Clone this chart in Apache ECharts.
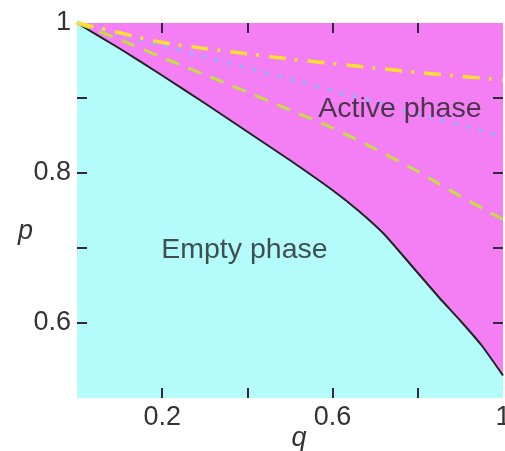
<!DOCTYPE html>
<html>
<head>
<meta charset="utf-8">
<title>Phase diagram</title>
<script src="https://cdn.jsdelivr.net/npm/echarts@6/dist/echarts.min.js"></script>
<style>
  html, body { margin: 0; padding: 0; background: #ffffff; }
  #chart { width: 505px; height: 451px; }
</style>
</head>
<body>
<div id="chart"></div>
<script>
// q values shared by the critical line
const qValues = [0, 0.1, 0.2, 0.3, 0.4, 0.5, 0.6, 0.66, 0.72, 0.78, 0.85, 0.9, 0.95, 1];
// critical line separating the empty and active phases
const criticalP = [1, 0.966, 0.930, 0.893, 0.855, 0.817, 0.777, 0.750, 0.719, 0.680, 0.634, 0.603, 0.570, 0.530];

const qCurve = [0, 0.1, 0.2, 0.3, 0.4, 0.5, 0.6, 0.7, 0.8, 0.9, 1];
// dashed (green), dotted (blue) and dash-dot (yellow) estimates
const greenP  = [1, 0.978, 0.954, 0.931, 0.908, 0.884, 0.860, 0.832, 0.802, 0.769, 0.738];
const blueP   = [1, 0.985, 0.970, 0.955, 0.940, 0.925, 0.910, 0.895, 0.879, 0.864, 0.848];
const yellowP = [1, 0.987, 0.974, 0.966, 0.959, 0.952, 0.946, 0.940, 0.934, 0.929, 0.924];

// tick positions and labelled ticks
const xTicks = [0.2, 0.4, 0.6, 0.8];
const xTickLabels = [0.2, 0.6, 1];
const yTicks = [0.6, 0.7, 0.8, 0.9];
const yTickLabels = [0.6, 0.8, 1];

// region names and where they sit in (q, p)
const regionNames = ['Empty phase', 'Active phase'];
const regionQ = [0.393, 0.758];
const regionP = [0.697, 0.885];

const pairs = (xs, ys) => xs.map((x, i) => [x, ys[i]]);

const FONT = 'Liberation Sans, Arial, sans-serif';
const tickLine = { color: '#33283a', width: 2 };
const hiddenLine = { show: false, onZero: false };
const innerTicks = (values) => ({ show: true, inside: true, length: 10, customValues: values, lineStyle: tickLine });

const chart = echarts.init(document.getElementById('chart'), null, { renderer: 'canvas' });

chart.setOption({
  animation: false,
  backgroundColor: '#ffffff',
  grid: {
    left: 77, top: 23, right: 2, bottom: 53,
    containLabel: false, outerBoundsMode: 'none',
    show: true, backgroundColor: '#f47ef4', borderWidth: 0
  },
  xAxis: [
    {
      type: 'value', min: 0, max: 1, position: 'bottom', z: 10,
      name: 'q', nameLocation: 'middle', nameGap: 27, nameMoveOverlap: false,
      nameTextStyle: { fontFamily: FONT, fontStyle: 'italic', fontSize: 27, color: '#333', verticalAlign: 'top', padding: [0, 0, 0, 18] },
      axisLine: hiddenLine,
      splitLine: { show: false },
      axisTick: innerTicks(xTicks),
      axisLabel: {
        customValues: xTickLabels, margin: 6,
        fontFamily: FONT, fontSize: 27, color: '#333',
        showMinLabel: true, showMaxLabel: true
      }
    },
    {
      type: 'value', min: 0, max: 1, position: 'top', z: 10,
      axisLine: hiddenLine,
      splitLine: { show: false },
      axisTick: innerTicks(xTicks),
      axisLabel: { show: false }
    }
  ],
  yAxis: [
    {
      type: 'value', min: 0.5, max: 1, position: 'left', z: 10,
      name: 'p', nameLocation: 'middle', nameGap: 44, nameRotate: 0, nameMoveOverlap: false,
      nameTextStyle: { fontFamily: FONT, fontStyle: 'italic', fontSize: 27, color: '#333', verticalAlign: 'top', padding: [7, 0, 0, 0] },
      axisLine: hiddenLine,
      splitLine: { show: false },
      axisTick: innerTicks(yTicks),
      axisLabel: {
        customValues: yTickLabels, margin: 6,
        fontFamily: FONT, fontSize: 27, color: '#333',
        showMinLabel: true, showMaxLabel: true
      }
    },
    {
      type: 'value', min: 0.5, max: 1, position: 'right', z: 10,
      axisLine: hiddenLine,
      splitLine: { show: false },
      axisTick: innerTicks(yTicks),
      axisLabel: { show: false }
    }
  ],
  series: [
    {
      name: 'critical line',
      type: 'line',
      data: pairs(qValues, criticalP),
      smooth: 0.2,
      symbol: 'none',
      lineStyle: { color: '#222', width: 2 },
      areaStyle: { color: '#b4fcfc', opacity: 1, origin: 'start' },
      z: 2
    },
    {
      name: 'green',
      type: 'line',
      data: pairs(qCurve, greenP),
      smooth: 0.3,
      symbol: 'none',
      lineStyle: { color: '#c6dc45', width: 3, type: [14, 10] },
      z: 3
    },
    {
      name: 'blue',
      type: 'line',
      data: pairs(qCurve, blueP),
      smooth: 0.3,
      symbol: 'none',
      lineStyle: { color: '#8cb6ff', width: 4, type: [3, 10] },
      z: 3
    },
    {
      name: 'yellow',
      type: 'line',
      data: pairs(qCurve, yellowP),
      smooth: 0.3,
      symbol: 'none',
      lineStyle: { color: '#ffe030', width: 3.5, type: [17, 9, 3, 10] },
      z: 4
    },
    {
      name: 'regions',
      type: 'scatter',
      symbolSize: 0,
      silent: true,
      data: regionNames.map((n, i) => ({ name: n, value: [regionQ[i], regionP[i]] })),
      label: {
        show: true, position: 'inside',
        formatter: (p) => p.name,
        fontFamily: FONT, fontSize: 28.5, color: '#222'
      },
      z: 5
    }
  ]
});
</script>
</body>
</html>
